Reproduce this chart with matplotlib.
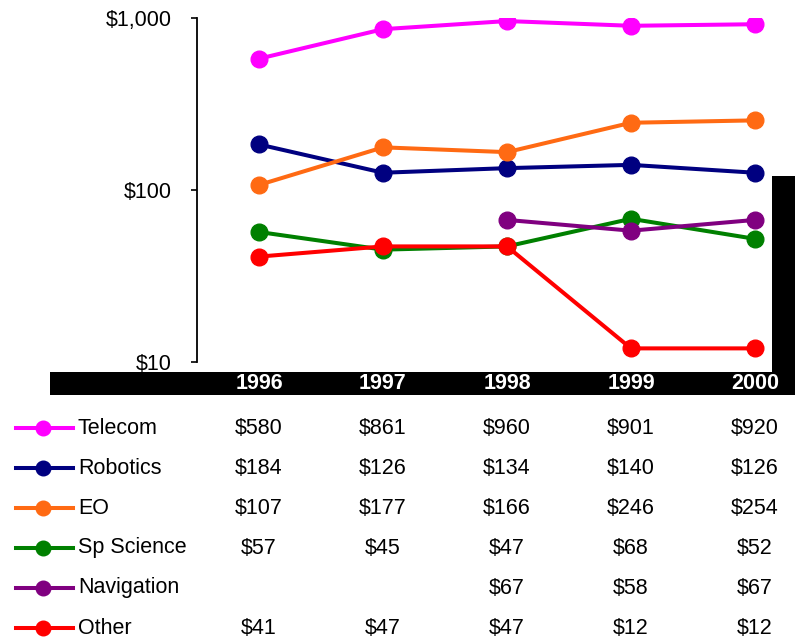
import matplotlib.pyplot as plt
import matplotlib.transforms as mtransforms
from matplotlib.patches import Rectangle
from matplotlib.lines import Line2D
import numpy as np

plt.rcParams['font.family'] = ['Liberation Sans', 'DejaVu Sans']

years = ["1996", "1997", "1998", "1999", "2000"]
segments = ["Telecom", "Robotics", "EO", "Sp Science", "Navigation", "Other"]
telecom = [580, 861, 960, 901, 920]
robotics = [184, 126, 134, 140, 126]
eo = [107, 177, 166, 246, 254]
sp_science = [57, 45, 47, 68, 52]
navigation = [np.nan, np.nan, 67, 58, 67]
other = [41, 47, 47, 12, 12]
colors = ["#FF00FF", "#000080", "#FF6A13", "#008000", "#800080", "#FF0000"]

series = [telecom, robotics, eo, sp_science, navigation, other]

W, H = 799, 642
fig = plt.figure(figsize=(W / 100, H / 100), dpi=100)


def fx(px):
    return px / W


def fy(py):
    return 1 - py / H


# plot area (pixel box 197..772 x 18..362)
ax = fig.add_axes([fx(197), fy(362), fx(772) - fx(197), fy(18) - fy(362)])
x = np.arange(len(years))
for vals, col in zip(series, colors):
    ax.plot(x, vals, color=col, linewidth=2.9, marker='o', markersize=12, zorder=3)

ax.set_yscale('log')
ax.set_ylim(10, 1000)
ax.set_xlim(-0.5, (772 - 259) / 124)
ax.set_yticks([10, 100, 1000])
ax.set_yticklabels(["$10", "$100", "$1,000"])
ax.minorticks_off()
ax.tick_params(axis='y', direction='out', length=4.5, width=1.2, labelsize=15.5, pad=13.5)
ax.set_xticks([])
for s in ['top', 'right', 'bottom']:
    ax.spines[s].set_visible(False)
ax.spines['left'].set_linewidth(1.3)

# black frame pieces
fig.add_artist(Rectangle((fx(50), fy(395)), fx(795) - fx(50), fy(372) - fy(395),
                         transform=fig.transFigure, facecolor='black', edgecolor='none'))
fig.add_artist(Rectangle((fx(772), fy(395)), fx(795) - fx(772), fy(176) - fy(395),
                         transform=fig.transFigure, facecolor='black', edgecolor='none'))

blend = mtransforms.blended_transform_factory(ax.transData, fig.transFigure)
for i, yr in enumerate(years):
    fig.text(i, fy(384), yr, transform=blend, ha='center', va='center',
             color='white', fontsize=15.5, fontweight='bold')

# data table with legend keys
for r, (name, vals, col) in enumerate(zip(segments, series, colors)):
    yy = fy(428 + 40 * r)
    fig.add_artist(Line2D([fx(16), fx(73)], [yy, yy], transform=fig.transFigure,
                          color=col, linewidth=2.9))
    fig.add_artist(Line2D([fx(43)], [yy], transform=fig.transFigure, color=col,
                          marker='o', markersize=10.5))
    fig.text(fx(78), yy, name, ha='left', va='center', fontsize=15.5)
    for i, v in enumerate(vals):
        if not np.isnan(v):
            fig.text(i, yy, f"${v:.0f}", transform=blend, ha='center', va='center',
                     fontsize=15.5)

fig.savefig("out.png", dpi=100)
